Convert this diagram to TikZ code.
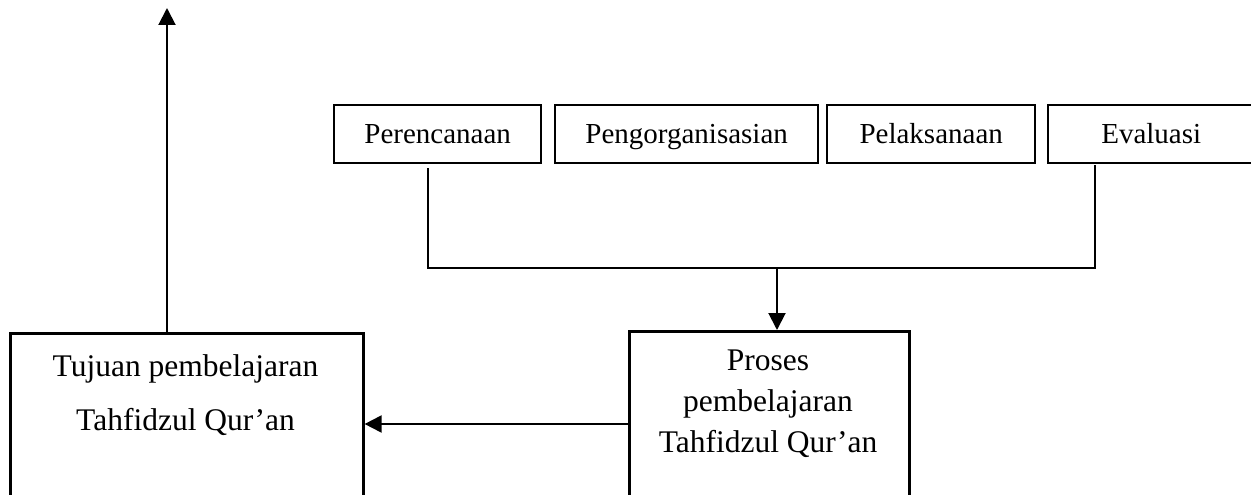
\documentclass[tikz,border=0pt]{standalone}
\usepackage{fontspec}
\setmainfont{Liberation Serif}
\usetikzlibrary{arrows.meta,calc}
\begin{document}
\begin{tikzpicture}[x=1pt,y=-1pt,
  topbox/.style={draw, line width=2.4pt, minimum height=58pt, inner sep=0pt, text height=22pt, text depth=4pt, anchor=north west, font=\fontsize{29}{35}\selectfont},
  bigbox/.style={draw, line width=2.6pt, minimum height=200pt, inner sep=0pt, anchor=north west},
  bigtext/.style={align=center, inner sep=0pt},
  link/.style={line width=1.3pt},
  arr/.style={line width=2pt, -{Triangle[width=17pt,length=17pt]}}]
\clip (0,0) rectangle (1251,495);
\fill[white] (0,0) rectangle (1251,495);
% top boxes
\node[topbox, minimum width=207pt] (per) at (333,104) {Perencanaan};
\node[topbox, minimum width=263pt] (peng) at (554,104) {Pengorganisasian};
\node[topbox, minimum width=208pt] (pel) at (826,104) {Pelaksanaan};
\node[topbox, minimum width=206pt] (eva) at (1047,104) {Evaluasi};
% lower boxes
\node[bigbox, minimum width=280pt] (proses) at (628,330) {};
\node[bigbox, minimum width=353pt] (tujuan) at (9,332) {};
\node[bigtext, font=\fontsize{31.5}{41}\selectfont] (ptext) at (768,404) {Proses\\pembelajaran\\Tahfidzul Qur’an};
\node[bigtext, font=\fontsize{31.5}{54}\selectfont] (ttext) at (185.5,395) {Tujuan pembelajaran\\Tahfidzul Qur’an};
% connectors
\coordinate (pl) at (428,168);
\coordinate (pr) at (1095,165);
\coordinate (jn) at (777,268);
\coordinate (h) at (500,424);
\coordinate (up) at (167,8);
\draw[link] (pl) |- (jn) -| (pr);
\draw[arr] (jn) -- (jn |- proses.north);
\draw[arr] (proses.west |- h) -- (tujuan.east |- h);
\draw[arr] (tujuan.north -| up) -- (up);
\end{tikzpicture}
\end{document}
